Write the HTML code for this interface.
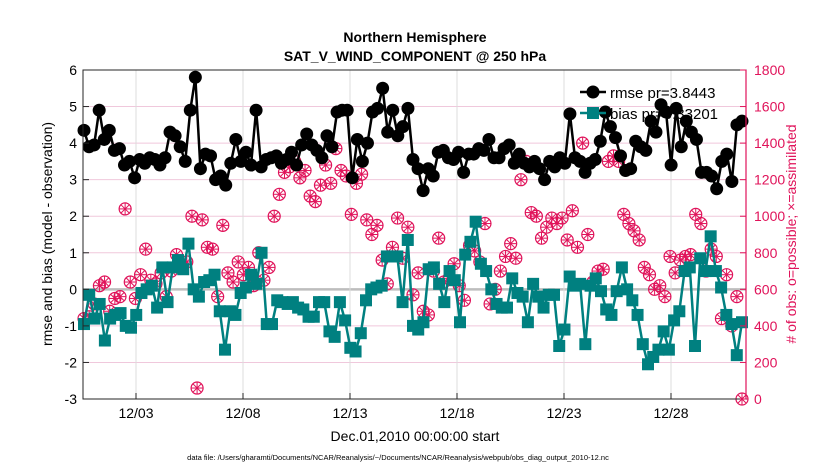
<!DOCTYPE html>
<html><head><meta charset="utf-8"><style>
html,body{margin:0;padding:0;background:#fff;}
svg{display:block;font-family:"Liberation Sans",Arial,sans-serif;}
</style></head><body>
<svg id="chart" width="830" height="470" viewBox="0 0 830 470">
<rect x="0" y="0" width="830" height="470" fill="#fff"/>
<text x="415" y="42" text-anchor="middle" font-size="14" font-weight="bold">Northern Hemisphere</text>
<text x="415" y="61" text-anchor="middle" font-size="14" font-weight="bold">SAT_V_WIND_COMPONENT @ 250 hPa</text>
<g id="grid"></g>
<g id="series"></g>
<g id="axes"></g>
<g>
  <line x1="580" y1="92" x2="606" y2="92" stroke="#000" stroke-width="2.5"/>
  <circle cx="593" cy="92" r="6.5" fill="#000"/>
  <text x="610" y="98" font-size="15">rmse pr=3.8443</text>
  <line x1="580" y1="113" x2="606" y2="113" stroke="#008080" stroke-width="2.5"/>
  <rect x="587" y="107" width="12" height="12" fill="#008080"/>
  <text x="610" y="119" font-size="15">bias pr=0.33201</text>
</g>
<text transform="translate(52,234) rotate(-90)" text-anchor="middle" font-size="14">rmse and bias (model - observation)</text>
<text transform="translate(796,234) rotate(-90)" text-anchor="middle" font-size="14" fill="#e0135a"># of obs: o=possible; ×=assimilated</text>
<text x="415" y="441" text-anchor="middle" font-size="14">Dec.01,2010 00:00:00 start</text>
<text x="398" y="460" text-anchor="middle" font-size="7.5">data file: /Users/gharamti/Documents/NCAR/Reanalysis/~/Documents/NCAR/Reanalysis/webpub/obs_diag_output_2010-12.nc</text>
</svg>
<script>
const xTickLabels=["12/03","12/08","12/13","12/18","12/23","12/28"];
const xTickDays=[2,7,12,17,22,27];
const yLeftTicks=[-3,-2,-1,0,1,2,3,4,5,6];
const yRightTicks=[0,200,400,600,800,1000,1200,1400,1600,1800];
const rmse=[4.35,3.9,3.95,4.9,4.1,4.35,3.8,3.85,3.4,3.5,3.05,3.55,3.45,3.6,3.55,3.4,3.6,4.3,4.2,3.9,3.5,4.9,5.8,3.3,3.7,3.65,3.0,3.1,2.85,3.45,4.1,3.5,3.75,3.4,4.9,3.35,3.55,3.6,3.65,3.45,3.55,3.75,3.4,3.95,4.25,3.95,3.8,3.6,4.2,3.9,4.85,4.9,4.9,3.05,4.1,3.5,4.0,4.85,4.95,5.5,4.3,4.9,4.2,4.45,4.95,3.55,3.3,2.7,3.3,3.1,3.75,3.8,3.6,3.55,3.75,3.2,3.7,3.7,3.85,3.8,4.1,3.6,3.6,3.85,3.95,3.45,3.7,3.45,3.35,3.5,3.3,3.0,3.5,3.35,3.6,3.45,4.8,3.6,3.5,3.2,3.45,3.55,4.05,4.85,4.45,4.15,3.65,3.25,3.3,4.05,3.9,3.8,4.6,4.3,5.05,4.85,3.4,4.95,3.9,4.6,4.3,4.1,3.2,3.2,3.1,2.75,3.5,3.7,2.95,4.5,4.6];
const bias=[-0.95,-0.15,-0.8,-0.4,-1.4,-0.8,-0.7,-0.65,-1.0,-1.05,-0.7,-0.1,0.0,0.1,-0.5,0.6,-0.35,0.6,0.8,0.55,1.25,0.0,-0.2,0.2,0.25,0.4,-0.6,-1.65,-0.6,-0.7,-0.1,0.05,0.4,0.15,1.0,-0.95,-0.95,-0.3,-0.35,-0.4,-0.35,-0.5,-0.55,-0.75,-0.75,-0.35,-0.35,-1.15,-1.3,-0.35,-0.85,-1.6,-1.7,-1.2,-0.3,0.0,0.05,0.1,0.9,0.9,0.9,-0.35,1.35,-1.0,-1.1,-0.9,0.55,0.6,0.15,-0.35,0.5,0.25,-0.9,0.95,1.3,1.85,0.7,0.5,0.0,-0.4,-0.5,-0.5,0.3,-0.1,-0.2,-0.9,0.15,-0.2,-0.5,-0.15,-0.15,-1.55,-1.1,0.35,0.1,0.15,-1.5,0.1,0.3,-0.05,-0.55,-0.7,-0.05,0.6,0.0,-0.3,-0.7,-1.5,-2.05,-1.85,-1.65,-1.15,-1.65,-0.85,-0.6,0.5,0.6,-1.55,0.85,0.5,1.45,0.5,0.05,-0.7,-0.95,-1.8,-0.9];
const obs=[440,450,520,620,640,480,550,560,1040,640,550,680,820,650,630,690,560,700,790,720,750,1000,60,980,830,820,560,950,690,640,750,680,720,620,800,650,720,1000,1120,1240,1270,1300,1210,1250,1110,1080,1170,1280,1180,1370,1250,1220,1010,1180,1230,980,900,950,760,630,830,990,770,940,570,690,480,460,700,880,640,660,740,620,540,840,810,750,960,520,600,700,780,850,770,1200,1300,1020,1000,880,940,990,960,990,870,1030,830,1400,900,640,700,710,1300,1330,1300,1010,960,920,870,720,680,600,620,560,780,690,760,780,790,1010,960,700,820,780,440,680,400,560,0];
const PX0=83,PX1=746,PY0=70,PY1=399,FX=84,LX=742;
const dayX=d=>93.2+d*21.4;
const xi=(i,n)=>FX+i*(LX-FX)/(n-1);
const yL=v=>PY1-(v+3)/9*(PY1-PY0);
const yR=v=>PY1-v/1800*(PY1-PY0);
const NS="http://www.w3.org/2000/svg";
function mk(tag,attrs,parent){const e=document.createElementNS(NS,tag);for(const k in attrs)e.setAttribute(k,attrs[k]);parent.appendChild(e);return e;}
const grid=document.getElementById('grid'),ser=document.getElementById('series'),ax=document.getElementById('axes');
yLeftTicks.forEach(v=>{const l=mk('line',{x1:PX0,x2:PX1,y1:yL(v),y2:yL(v),stroke:v===0?'#bdbdbd':'#f0c8dc','stroke-width':v===0?2.5:1},grid);

});
xTickDays.forEach(d=>{const l=mk('line',{x1:dayX(d),x2:dayX(d),y1:PY0,y2:PY1,stroke:'#dcdcdc','stroke-width':1},grid);

});
obs.forEach((v,i)=>{const g=mk('g',{},ser);


const cx=xi(i,obs.length),cy=yR(v),r=6;
mk('circle',{cx:cx,cy:cy,r:r,fill:'none',stroke:'#e0135a','stroke-width':1.2},g);
for(let a=0;a<4;a++){const t=a*Math.PI/4;mk('line',{x1:cx-r*Math.cos(t),y1:cy-r*Math.sin(t),x2:cx+r*Math.cos(t),y2:cy+r*Math.sin(t),stroke:'#e0135a','stroke-width':1},g);}
});
const bp=mk('polyline',{points:bias.map((v,i)=>xi(i,bias.length)+','+yL(v)).join(' '),fill:'none',stroke:'#008080','stroke-width':2.5},ser);


bias.forEach((v,i)=>{const r=mk('rect',{x:xi(i,bias.length)-6,y:yL(v)-6,width:12,height:12,fill:'#008080'},ser);

});
const rp=mk('polyline',{points:rmse.map((v,i)=>xi(i,rmse.length)+','+yL(v)).join(' '),fill:'none',stroke:'#000','stroke-width':2.5},ser);


rmse.forEach((v,i)=>{const c=mk('circle',{cx:xi(i,rmse.length),cy:yL(v),r:6.5,fill:'#000'},ser);

});
mk('rect',{x:PX0,y:PY0,width:PX1-PX0,height:PY1-PY0,fill:'none',stroke:'#262626','stroke-width':1},ax);
mk('line',{x1:PX1,x2:PX1,y1:PY0,y2:PY1,stroke:'#e0135a','stroke-width':1.2},ax);
yLeftTicks.forEach(v=>{mk('line',{x1:PX0,x2:PX0+6,y1:yL(v),y2:yL(v),stroke:'#262626'},ax);
const t=mk('text',{x:PX0-6,y:yL(v)+5,'text-anchor':'end','font-size':14},ax);t.textContent=v;

});
yRightTicks.forEach(v=>{mk('line',{x1:PX1-6,x2:PX1,y1:yR(v),y2:yR(v),stroke:'#e0135a'},ax);
const t=mk('text',{x:PX1+8,y:yR(v)+5,'font-size':14,fill:'#e0135a'},ax);t.textContent=v;

});
xTickDays.forEach((d,k)=>{mk('line',{x1:dayX(d),x2:dayX(d),y1:PY1,y2:PY1-6,stroke:'#262626'},ax);
const t=mk('text',{x:dayX(d),y:418,'text-anchor':'middle','font-size':14},ax);t.textContent=xTickLabels[k];

});
</script>
</body></html>
